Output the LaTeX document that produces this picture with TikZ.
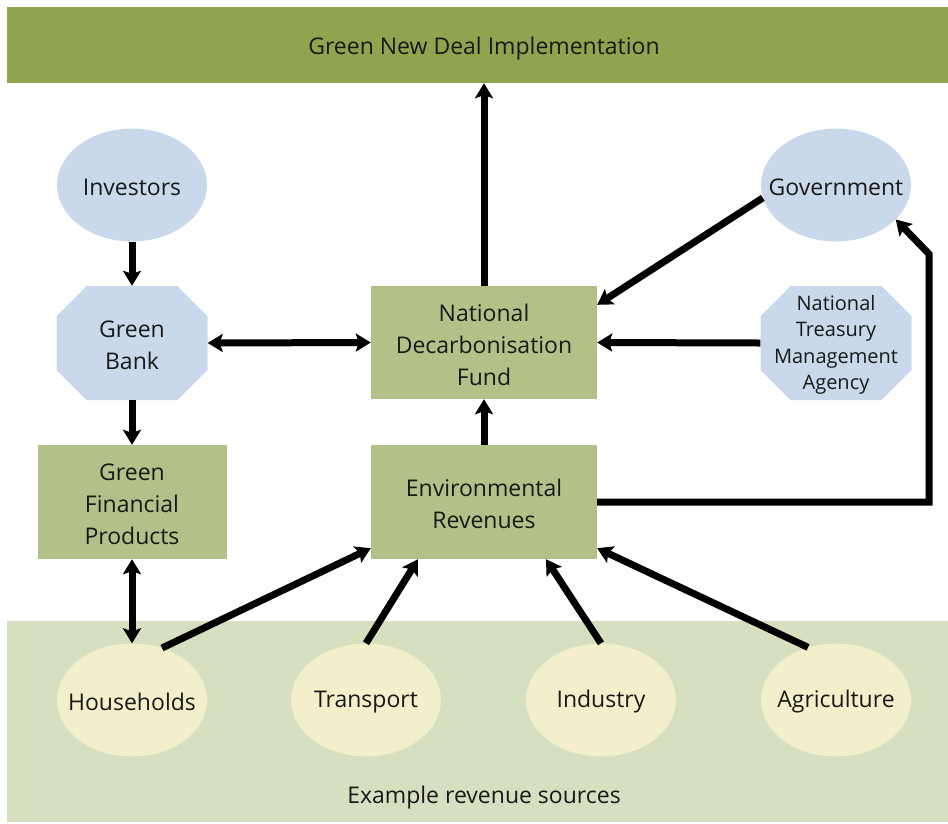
\documentclass[tikz,border=0pt]{standalone}
\usepackage{fontspec}
\setmainfont{Open Sans}
\usetikzlibrary{arrows.meta,shapes.geometric,calc}
\definecolor{bargreen}{HTML}{8FA44E}
\definecolor{boxgreen}{HTML}{B2C188}
\definecolor{bandgreen}{HTML}{D7DFC1}
\definecolor{bluefill}{HTML}{C9D9EB}
\definecolor{creamfill}{HTML}{F3EFCA}
\tikzset{
  txt/.style={font=\fontsize{23}{32}\selectfont, align=center, text=black!90, inner sep=0pt},
  lab/.style={label={[txt,yshift=-2pt]center:{#1}}},
  blueell/.style={ellipse, fill=bluefill, minimum width=150pt, minimum height=113pt, inner sep=0pt},
  creamell/.style={ellipse, fill=creamfill, minimum width=150pt, minimum height=113pt, inner sep=0pt},
  gbox/.style={rectangle, fill=boxgreen, inner sep=0pt},
  oct/.style={rectangle, inner sep=0pt, minimum width=151pt, minimum height=114pt,
    path picture={\fill[bluefill]
      ([xshift=30pt]path picture bounding box.north west) --
      ([xshift=-30pt]path picture bounding box.north east) --
      ([yshift=-30pt]path picture bounding box.north east) --
      ([yshift=30pt]path picture bounding box.south east) --
      ([xshift=-30pt]path picture bounding box.south east) --
      ([xshift=30pt]path picture bounding box.south west) --
      ([yshift=30pt]path picture bounding box.south west) --
      ([yshift=-30pt]path picture bounding box.north west) -- cycle;}},
  arr/.style={line width=7pt, -{Stealth[length=15pt,width=18pt,inset=3pt]}},
  darr/.style={line width=7pt, {Stealth[length=15pt,width=18pt,inset=3pt]}-{Stealth[length=15pt,width=18pt,inset=3pt]}}
}
\begin{document}
\begin{tikzpicture}[x=1pt,y=-1pt]
\useasboundingbox (0,0) rectangle (948,823);
% bands
\node[rectangle, fill=bargreen, minimum width=954pt, minimum height=76pt, inner sep=0pt,
  label={[txt,yshift=-4pt]center:Green New Deal Implementation}] (top) at (484,45) {};
\node[rectangle, fill=bandgreen, minimum width=954pt, minimum height=201pt, inner sep=0pt] (band) at (484,721.5) {};
\node[txt, yshift=-3pt] (bandlabel) at (484,795) {Example revenue sources};
% nodes
\node[blueell, lab=Investors] (inv) at (132,185) {};
\node[blueell, lab=Government] (gov) at (836,185) {};
\node[oct, lab={Green\\Bank}] (gb) at (132,343) {};
\node[oct, label={[txt,font=\fontsize{20}{26.5}\selectfont,yshift=-2pt]center:{National\\Treasury\\Management\\Agency}}] (ntma) at (836,343) {};
\node[gbox, minimum width=226pt, minimum height=113pt, lab={National\\Decarbonisation\\Fund}] (ndf) at (484,342.5) {};
\node[gbox, minimum width=189pt, minimum height=114pt, lab={Green\\Financial\\Products}] (gfp) at (132,502) {};
\node[gbox, minimum width=226pt, minimum height=114pt, lab={Environmental\\Revenues}] (er) at (484,502) {};
\node[creamell, lab=Households] (hh) at (132,700) {};
\node[creamell, lab=Transport] (tr) at (366,700) {};
\node[creamell, lab=Industry] (ind) at (601,700) {};
\node[creamell, lab=Agriculture] (agr) at (836,700) {};
\coordinate (c1) at (929,502);
\coordinate (c2) at (929,254);
% connectors
\draw[arr] (ndf.north) -- (top.south);
\draw[arr] (inv.south) -- (gb.north);
\draw[darr] (gb.east) -- (ndf.west);
\draw[arr] (gov.190) -- ([yshift=-19pt]ndf.north east);
\draw[arr] (ntma.west) -- (ndf.east);
\draw[arr] (gb.south) -- (gfp.north);
\draw[arr] (er.north) -- (ndf.south);
\draw[arr, line join=miter] (er.east) -- (c1) -- (c2) -- (gov.330);
\draw[darr] (gfp.south) -- (hh.north);
\draw[arr] (hh.60) -- ([yshift=11pt]er.south west);
\draw[arr] (tr.north) -- ([xshift=-66pt]er.south);
\draw[arr] (ind.north) -- ([xshift=62pt]er.south);
\draw[arr] (agr.118) -- ([yshift=11pt]er.south east);
\end{tikzpicture}
\end{document}
